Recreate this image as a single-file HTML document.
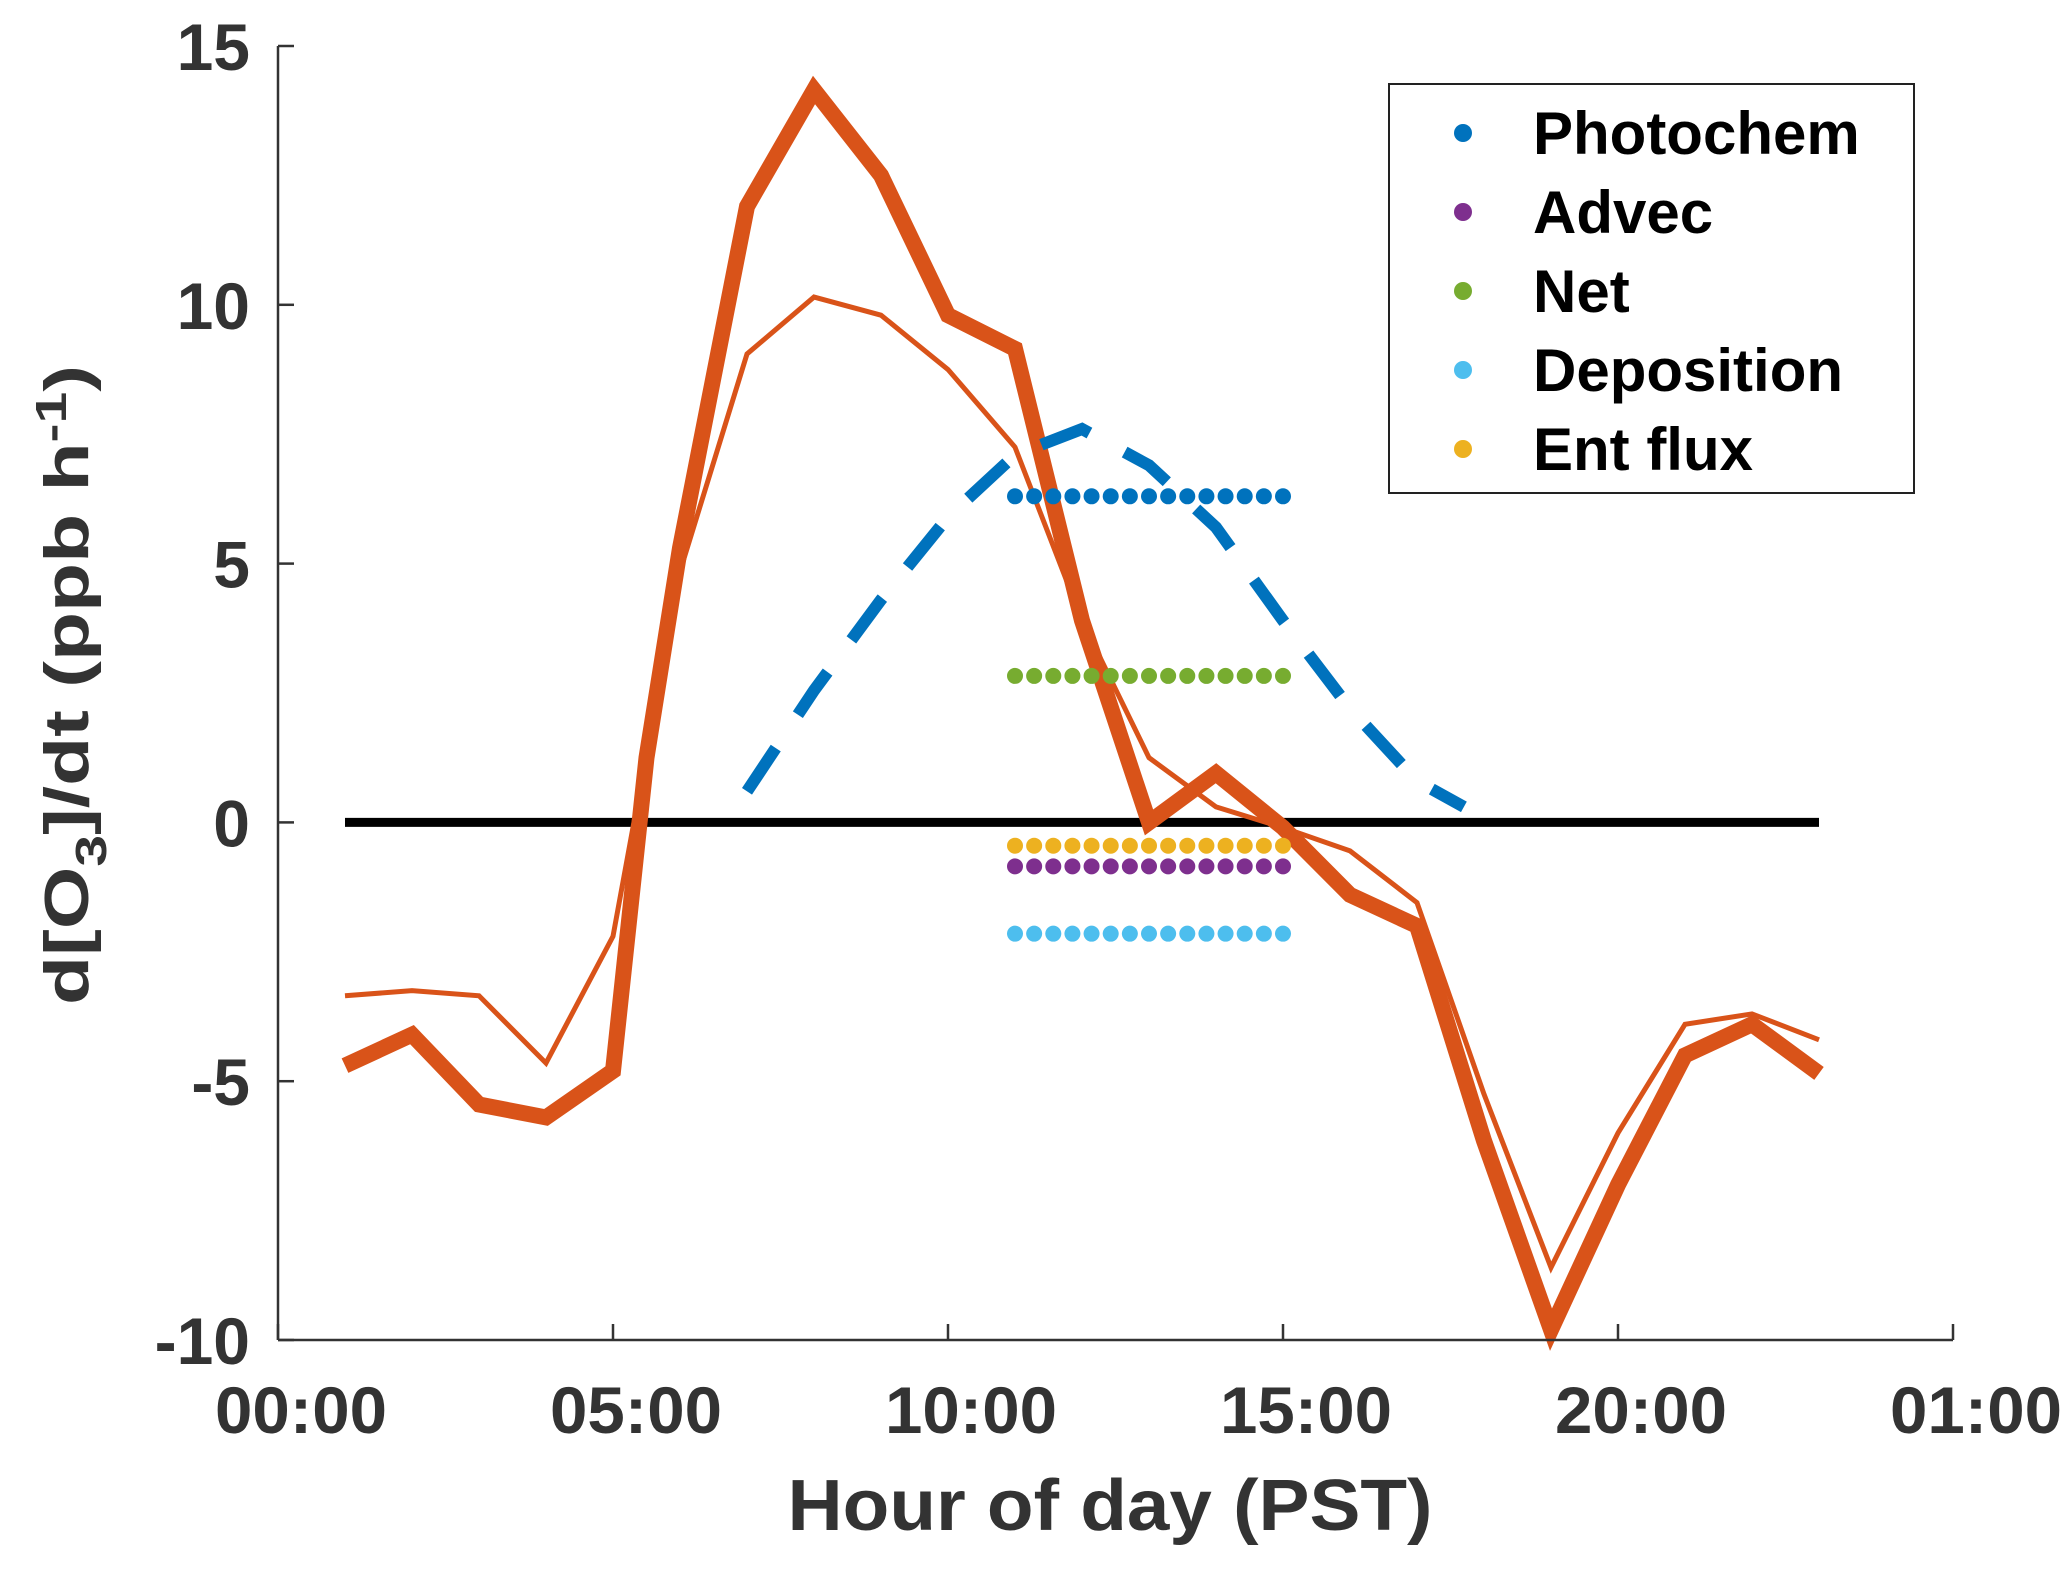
<!DOCTYPE html>
<html><head><meta charset="utf-8"><style>
html,body{margin:0;padding:0;background:#fff;}
svg{display:block;font-family:"Liberation Sans",sans-serif;font-weight:bold;}
</style></head><body>
<svg id="chart" width="2067" height="1569" viewBox="0 0 2067 1569">
<g id="plot"></g>
<g id="axes"></g>
<g id="legend"></g>
</svg>
<script>
const hours = [1,2,3,4,5,5.5,6,7,8,9,10,11,12,13,14,15,16,17,18,19,20,21,22,23];
const thickValues = [-4.7,-4.1,-5.45,-5.7,-4.8,1.25,5.3,11.9,14.15,12.5,9.8,9.15,3.9,0,0.95,-0.1,-1.4,-2.0,-6.15,-9.8,-7.0,-4.5,-3.9,-4.85];
const thinHours = [1,2,3,4,5,6,7,8,9,10,11,12,13,14,15,16,17,18,19,20,21,22,23];
const thinValues = [-3.35,-3.25,-3.35,-4.65,-2.2,4.85,9.05,10.15,9.8,8.75,7.25,3.9,1.25,0.3,-0.1,-0.55,-1.55,-5.25,-8.6,-6.0,-3.9,-3.7,-4.2];
const photoHours = [7,8,9,10,11,12,13,14,15,16,17,17.7];
const photoValues = [0.6,2.55,4.3,5.9,7.1,7.6,6.9,5.7,3.9,2.2,0.8,0.3];
const dotNames = ["Photochem","Advec","Net","Deposition","Ent flux"];
const dotValues = [6.3,-0.85,2.83,-2.15,-0.45];
const dotColors = ["#0072BD","#7E2F8E","#77AC30","#4DBEEE","#EDB120"];
const yTicks = [15,10,5,0,-5,-10];
const xTickHours = [0,5,10,15,20,25];
const xTickLabels = ["00:00","05:00","10:00","15:00","20:00","01:00"];

const NS="http://www.w3.org/2000/svg";
const L=278,R=1953,T=46,B=1340;
const xs=h=>L+(h/25)*(R-L);
const ys=v=>B-(v+10)/25*(B-T);
function mk(tag,attrs,parent){const e=document.createElementNS(NS,tag);for(const k in attrs)e.setAttribute(k,attrs[k]);parent.appendChild(e);return e;}
const plot=document.getElementById('plot'),axes=document.getElementById('axes'),legend=document.getElementById('legend');

let z=mk('line',{x1:xs(1),x2:xs(23),y1:ys(0),y2:ys(0),stroke:'#000','stroke-width':9},plot);



function poly(hh,vv,w,color,dash){
  const p=mk('polyline',{points:hh.map((h,i)=>xs(h)+','+ys(vv[i])).join(' '),fill:'none',stroke:color,'stroke-width':w,'stroke-linejoin':'miter','stroke-miterlimit':3},plot);
  if(dash)p.setAttribute('stroke-dasharray',dash);
  return p;
}
let p1=poly(thinHours,thinValues,5,'#D95319');


let p2=poly(hours,thickValues,16,'#D95319');


let p3=poly(photoHours,photoValues,12,'#0072BD','52 40');



const order=[1,4,3,2,0];
order.forEach(k=>{
  for(let i=0;i<15;i++){
    const c=mk('circle',{cx:xs(11+i*4/14),cy:ys(dotValues[k]),r:8,fill:dotColors[k]},plot);
    
    
  }
});

let ax=mk('line',{x1:L,x2:R,y1:B,y2:B,stroke:'#333','stroke-width':2.5},axes);


let ay=mk('line',{x1:L,x2:L,y1:T,y2:B,stroke:'#333','stroke-width':2.5},axes);


yTicks.forEach(v=>{
  mk('line',{x1:L,x2:L+16,y1:ys(v),y2:ys(v),stroke:'#333','stroke-width':2.5},axes);
  const t=mk('text',{x:250,y:ys(v)+24,'text-anchor':'end','font-size':66,fill:'#333'},axes);
  t.textContent=String(v);
  
  
});
xTickHours.forEach((h,i)=>{
  mk('line',{x1:xs(h),x2:xs(h),y1:B,y2:B-16,stroke:'#333','stroke-width':2.5},axes);
  const t=mk('text',{x:xs(h)+23,y:1433,'text-anchor':'middle','font-size':66,fill:'#333',textLength:172,lengthAdjust:'spacingAndGlyphs'},axes);
  t.textContent=xTickLabels[i];
  
  
});
let xl=mk('text',{x:1110,y:1530,'text-anchor':'middle','font-size':72,fill:'#333',textLength:645,lengthAdjust:'spacingAndGlyphs'},axes);
xl.textContent='Hour of day (PST)';


let yl=mk('text',{x:0,y:0,'text-anchor':'middle','font-size':62,fill:'#333',transform:'translate(88,685) rotate(-90)',textLength:640,lengthAdjust:'spacingAndGlyphs'},axes);
yl.innerHTML='d[O<tspan dy="18" font-size="44">3</tspan><tspan dy="-18">]/dt (ppb h</tspan><tspan dy="-22" font-size="44">-1</tspan><tspan dy="22">)</tspan>';



let box=mk('rect',{x:1389,y:84,width:525,height:409,fill:'#fff',stroke:'#222','stroke-width':2},legend);


dotNames.forEach((n,i)=>{
  const y=133+i*79;
  const c=mk('circle',{cx:1463,cy:y,r:9,fill:dotColors[i]},legend);
  
  
  const t=mk('text',{x:1533,y:y+21,'font-size':60,fill:'#000'},legend);
  t.textContent=n;
  
  
});
</script>
</body></html>
